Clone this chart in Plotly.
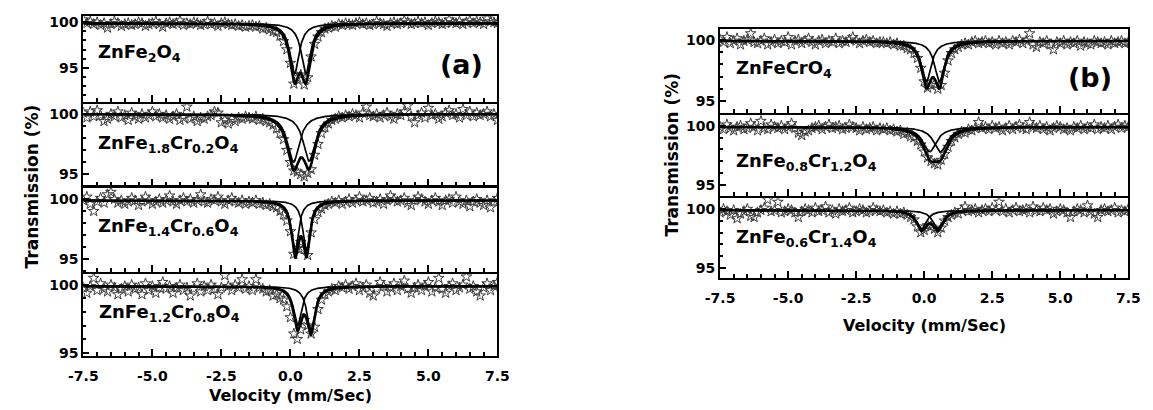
import numpy as np
import plotly.graph_objects as go

# Doppler velocity of each spectrometer channel (mm/s)
velocity = np.round(np.linspace(-7.5, 7.5, 121), 3)

# Measured transmission (%) for each composition
t_znfe2o4 = [
    100.3, 99.9, 100.1, 99.8, 100.0, 99.7, 99.9, 99.4, 99.8, 100.1, 99.9, 99.6,
    99.8, 99.9, 99.7, 99.8, 100.0, 99.9, 99.6, 99.8, 99.9, 100.1, 99.8, 99.5,
    99.9, 100.0, 99.8, 99.9, 100.2, 99.7, 99.9, 99.8, 100.0, 99.9, 99.7, 99.8,
    100.1, 99.8, 99.9, 99.6, 99.9, 100.0, 99.8, 99.7, 99.8, 99.6, 99.7, 99.5,
    99.6, 99.7, 99.5, 99.6, 99.3, 99.4, 99.2, 99.0, 98.9, 98.5, 97.9, 97.0,
    95.5, 93.2, 93.9, 94.2, 93.1, 93.9, 96.2, 97.6, 98.4, 98.9, 99.3, 99.4,
    99.6, 99.5, 99.8, 99.7, 99.9,
    99.8, 99.7, 99.9, 100.0, 99.8, 99.9, 99.7, 99.8, 100.1, 99.9, 99.8, 99.6,
    99.9, 100.0, 99.8, 99.9, 100.2, 100.0, 99.8, 99.9, 100.1, 99.9, 100.0, 99.7,
    99.9, 100.1, 100.0, 99.8, 99.9, 100.3, 100.0, 99.9, 100.1, 99.8, 100.0, 100.2,
    99.9, 100.1, 100.0, 99.8, 100.4, 100.1, 100.0, 99.9,
]
t_fe18cr02 = [
    100.1, 99.7, 100.2, 99.8, 100.3, 99.9, 99.4, 99.6, 100.0, 99.8, 100.2, 99.7,
    99.9, 99.5, 100.1, 99.8, 99.6, 100.0, 99.7, 99.9, 100.2, 99.8, 100.0, 99.7,
    99.9, 99.6, 99.8, 100.0, 99.5, 99.7, 100.6, 99.6, 99.8, 99.4, 99.7, 99.6,
    99.8, 99.9, 100.2, 100.1, 99.3, 99.5, 99.2, 99.6, 99.4, 99.7, 99.6, 99.8,
    99.7, 99.6, 99.8, 99.5, 99.6, 99.4, 99.3, 99.1, 98.8, 98.4, 97.9, 97.0,
    96.0, 95.3, 95.2, 95.0, 94.8, 95.1, 95.4, 96.6, 97.5, 98.4, 98.9, 99.2,
    99.5, 99.6, 99.8, 99.7, 99.9,
    99.8, 100.0, 99.9, 99.7, 100.1, 100.6, 99.9, 99.8, 100.0, 99.7, 99.9, 100.1,
    99.8, 99.6, 100.0, 99.9, 100.2, 100.7, 99.8, 99.3, 99.9, 100.1, 99.7, 100.5,
    99.9, 100.0, 99.6, 99.8, 100.1, 100.3, 99.9, 100.0, 99.7, 100.4, 99.9, 100.2,
    99.8, 100.1, 99.9, 100.0, 100.2, 99.8, 100.0, 99.5,
]
t_fe14cr06 = [
    99.9, 100.2, 99.6, 99.0, 99.8, 100.1, 99.7, 100.4, 100.6, 100.0, 99.7, 99.9,
    99.6, 99.8, 100.1, 99.9, 99.5, 99.8, 100.2, 99.9, 99.6, 99.8, 100.0, 99.7,
    99.9, 100.3, 99.8, 99.6, 99.9, 100.1, 99.8, 100.0, 99.7, 99.9, 100.4, 99.8,
    99.7, 100.0, 99.9, 100.2, 99.8, 99.6, 99.9, 100.1, 99.8, 99.7, 99.9, 99.6,
    99.8, 99.7, 99.9, 99.6, 99.7, 99.5, 99.6, 99.4, 99.3, 99.0, 98.7, 98.2,
    97.3, 95.4, 95.9, 96.4, 95.8, 95.3, 97.2, 98.3, 98.9, 99.2, 99.5, 99.6,
    99.8, 99.7, 99.9, 99.6, 99.8,
    100.0, 99.7, 99.9, 100.2, 99.8, 99.9, 100.1, 99.7, 99.8, 100.0, 99.6, 99.9,
    100.3, 100.0, 99.8, 99.9, 100.1, 99.7, 99.5, 99.9, 100.2, 100.0, 99.8, 99.6,
    99.9, 100.1, 99.8, 99.5, 99.9, 100.0, 99.7, 100.2, 99.8, 99.6, 99.9, 99.4,
    99.8, 100.0, 99.7, 99.5, 99.9, 99.3, 99.8, 100.1,
]
t_fe12cr08 = [
    99.8, 99.4, 99.9, 100.5, 99.6, 100.1, 99.7, 99.5, 100.0, 99.8, 99.3, 99.7,
    99.9, 99.5, 100.0, 99.7, 99.8, 99.3, 100.1, 99.6, 99.9, 99.4, 99.8, 100.2,
    99.7, 99.9, 99.4, 99.8, 100.0, 99.6, 99.8, 99.2, 99.7, 100.1, 99.5, 99.9,
    99.6, 100.0, 99.7, 99.3, 99.8, 100.7, 99.9, 99.6, 100.0, 99.8, 100.4, 99.7,
    99.9, 99.6, 100.4, 99.8, 99.7, 99.5, 99.6, 99.2, 99.3, 99.0, 98.9, 98.4,
    97.6, 96.4, 96.0, 96.7, 97.4, 97.0, 96.4, 96.9, 98.2, 98.9, 99.3, 99.5,
    99.7, 99.6, 99.9, 99.8, 100.0,
    99.7, 99.9, 100.1, 99.6, 99.8, 100.0, 99.4, 99.2, 99.7, 100.2, 99.9, 99.5,
    99.8, 100.1, 99.6, 99.9, 100.3, 99.7, 99.4, 99.8, 100.0, 99.6, 99.9, 100.2,
    99.5, 99.8, 100.5, 99.7, 99.4, 99.9, 100.1, 99.6, 99.8, 100.0, 100.6, 99.7,
    99.9, 99.5, 99.2, 99.8, 100.1, 99.6, 99.9, 100.2,
]
t_fecr = [
    100.0, 99.8, 100.2, 99.7, 99.9, 100.1, 99.6, 99.9, 100.0, 100.5, 99.8, 99.7,
    99.9, 100.1, 99.6, 99.8, 100.0, 99.7, 99.9, 99.8, 100.2, 99.6, 99.9, 100.0,
    99.7, 99.9, 100.1, 99.8, 99.6, 99.9, 100.0, 99.7, 99.9, 99.8, 100.1, 99.7,
    99.9, 99.8, 100.0, 100.2, 99.9, 99.7, 99.9, 100.0, 99.8, 99.9, 99.7, 99.8,
    99.8, 99.7, 99.8, 99.6, 99.7, 99.5, 99.5, 99.3, 99.2, 98.9, 98.5, 97.7,
    96.6, 96.1, 96.3, 96.4, 96.0, 96.3, 97.3, 98.3, 98.9, 99.2, 99.4, 99.6,
    99.7, 99.6, 99.8, 99.9, 99.7,
    99.8, 99.9, 99.7, 99.8, 99.6, 99.9, 99.7, 99.8, 99.6, 99.9, 99.8, 100.0,
    99.7, 99.9, 100.5, 99.6, 99.4, 99.8, 99.7, 99.9, 99.6, 99.2, 99.8, 99.7,
    99.9, 99.6, 99.8, 99.7, 99.9, 99.5, 99.8, 99.7, 99.6, 99.9, 99.8, 99.7,
    99.8, 99.6, 99.9, 99.7, 99.8, 99.9, 99.7, 99.8,
]
t_fe08cr12 = [
    99.9, 99.7, 100.1, 99.8, 99.6, 99.9, 100.0, 99.7, 99.8, 100.2, 99.9, 99.6,
    100.4, 99.8, 99.7, 100.1, 99.9, 99.8, 100.0, 99.7, 99.9, 100.2, 99.8, 99.4,
    99.2, 99.5, 99.6, 99.8, 99.9, 100.0, 99.7, 99.9, 100.1, 99.8, 99.9, 100.0,
    99.7, 99.8, 100.1, 99.9, 99.8, 99.6, 99.9, 99.7, 99.8, 99.9, 99.6, 99.8,
    99.7, 99.8, 99.6, 99.7, 99.5, 99.6, 99.3, 99.4, 99.1, 99.0, 98.7, 98.4,
    97.8, 97.3, 97.0, 96.8, 96.7, 97.1, 97.6, 98.2, 98.7, 99.0, 99.3, 99.5,
    99.4, 99.7, 99.6, 99.8, 100.3,
    99.8, 99.9, 99.7, 100.0, 99.8, 99.9, 99.6, 99.8, 100.0, 99.7, 99.9, 100.1,
    99.8, 99.7, 100.3, 99.9, 99.8, 100.0, 99.7, 99.9, 99.6, 99.8, 100.0, 99.9,
    99.7, 99.8, 99.6, 99.9, 99.8, 100.0, 99.7, 99.9, 99.8, 100.1, 99.7, 99.9,
    99.8, 100.0, 99.7, 99.9, 100.1, 99.8, 100.0, 99.9,
]
t_fe06cr14 = [
    99.7, 100.0, 99.8, 99.5, 99.9, 99.2, 99.6, 99.8, 100.0, 99.4, 99.3, 99.7,
    99.9, 100.1, 100.8, 99.8, 99.9, 100.6, 99.7, 99.8, 100.0, 99.9, 99.7, 99.3,
    99.8, 100.0, 99.9, 99.7, 100.1, 99.8, 99.9, 100.2, 99.7, 99.9, 99.6, 100.0,
    99.8, 99.9, 100.1, 99.7, 99.8, 100.0, 99.9, 99.7, 99.8, 100.1, 99.9, 99.8,
    99.9, 99.7, 99.8, 99.6, 99.8, 99.6, 99.7, 99.5, 99.3, 99.1, 98.5, 98.0,
    98.2, 98.6, 98.5, 98.3, 98.0, 98.4, 99.0, 99.3, 99.5, 99.7, 99.6, 99.9,
    100.2, 99.8, 99.9, 100.0, 99.7,
    99.9, 100.0, 99.8, 100.1, 99.9, 100.6, 99.8, 100.0, 99.7, 99.9, 100.1, 99.8,
    99.9, 100.0, 99.7, 100.2, 99.9, 99.8, 100.1, 99.9, 100.0, 99.6, 99.8, 100.0,
    99.9, 99.7, 99.3, 99.8, 100.0, 99.9, 99.7, 100.3, 99.8, 99.6, 99.3, 99.9,
    100.0, 99.8, 99.9, 100.1, 99.7, 99.9, 99.8, 100.0,
]

sample_labels = [
    "ZnFe<sub>2</sub>O<sub>4</sub>",
    "ZnFe<sub>1.8</sub>Cr<sub>0.2</sub>O<sub>4</sub>",
    "ZnFe<sub>1.4</sub>Cr<sub>0.6</sub>O<sub>4</sub>",
    "ZnFe<sub>1.2</sub>Cr<sub>0.8</sub>O<sub>4</sub>",
    "ZnFeCrO<sub>4</sub>",
    "ZnFe<sub>0.8</sub>Cr<sub>1.2</sub>O<sub>4</sub>",
    "ZnFe<sub>0.6</sub>Cr<sub>1.4</sub>O<sub>4</sub>",
]
spectra = [t_znfe2o4, t_fe18cr02, t_fe14cr06, t_fe12cr08,
           t_fecr, t_fe08cr12, t_fe06cr14]

# Quadrupole doublet fits: baseline (%), line centres (mm/s),
# full widths at half maximum (mm/s) and line depths (%)
fit_baseline = [99.9, 100.0, 99.9, 99.9, 99.9, 99.9, 99.9]
fit_centre = [[0.15, 0.56], [0.11, 0.68], [0.17, 0.58], [0.26, 0.74],
              [0.08, 0.56], [0.20, 0.60], [-0.10, 0.50]]
fit_fwhm = [[0.40, 0.40], [0.52, 0.52], [0.30, 0.30], [0.34, 0.34],
            [0.43, 0.43], [0.60, 0.60], [0.44, 0.44]]
fit_depth = [[5.6, 5.6], [4.0, 3.9], [4.3, 4.3], [2.9, 3.3],
             [3.3, 3.3], [2.1, 2.1], [1.6, 1.6]]

# tick positions and their labels
x_tick_values = [-7.5, -5.0, -2.5, 0.0, 2.5, 5.0, 7.5]
x_tick_labels = ["-7.5", "-5.0", "-2.5", "0.0", "2.5", "5.0", "7.5"]
y_tick_values = [95, 100]
y_tick_labels = ["95", "100"]

W, H = 1153, 410
FONT = "DejaVu Sans"
LW = 2  # frame line width in px

# panel geometry in pixels: (x0, x1, y_top, y_bottom, y_range)
panels = [
    (70, 494, 14.3, 101.5, [91.22, 100.70]),
    (70, 494, 101.5 + LW, 186.7, [94.07, 100.86]),
    (70, 494, 186.7 + LW, 274.5, [93.91, 100.99]),
    (70, 494, 274.5 + LW, 360.0, [94.77, 100.82]),
    (722, 1140, 27.3, 112.7, [94.07, 100.88]),
    (722, 1140, 112.7 + LW, 197.7, [94.02, 100.94]),
    (722, 1140, 197.7 + LW, 281.0, [94.10, 100.92]),
]
bottom_panels = {3, 6}
label_pos = [(83, 52), (83, 144), (83, 229), (84, 316),
             (736, 68), (736, 163), (736, 240)]

v_fine = np.linspace(-7.5, 7.5, 1501)


def lorentz(v, c, fwhm, depth):
    return depth / (1.0 + ((v - c) / (fwhm / 2.0)) ** 2)


def bold(items):
    return ["<b>" + s + "</b>" for s in items]


tick_font = dict(family=FONT, size=14, color="black")
fig = go.Figure()
layout_axes = {}
annotations = []

for k, (x0, x1, yt, yb, yr) in enumerate(panels):
    n = "" if k == 0 else str(k + 1)
    xa, ya = "x" + n, "y" + n
    base = fit_baseline[k]
    fig.add_trace(go.Scatter(
        x=velocity, y=spectra[k], mode="markers", xaxis=xa, yaxis=ya,
        marker=dict(symbol="star-open", size=8, color="#3c3c3c",
                    line=dict(width=1, color="#3c3c3c")),
        showlegend=False, hoverinfo="skip"))
    comps = [lorentz(v_fine, c, w, d) for c, w, d in
             zip(fit_centre[k], fit_fwhm[k], fit_depth[k])]
    for comp in comps:
        fig.add_trace(go.Scatter(
            x=v_fine, y=base - comp, mode="lines", xaxis=xa, yaxis=ya,
            line=dict(color="black", width=1.7), showlegend=False,
            hoverinfo="skip"))
    fig.add_trace(go.Scatter(
        x=v_fine, y=base - sum(comps), mode="lines", xaxis=xa, yaxis=ya,
        line=dict(color="black", width=2.6), showlegend=False,
        hoverinfo="skip"))

    layout_axes["xaxis" + n] = dict(
        domain=[x0 / W, x1 / W], anchor=ya, range=[-7.5, 7.5],
        tickmode="array", tickvals=x_tick_values,
        ticktext=bold(x_tick_labels), ticklabelstandoff=6,
        ticks="inside", ticklen=7, tickwidth=1.5,
        tickcolor="black", showline=True, linewidth=LW, linecolor="black",
        mirror=True, showgrid=False, zeroline=False,
        showticklabels=k in bottom_panels, tickfont=tick_font,
        minor=dict(ticks="inside", tickmode="linear", dtick=0.5, tick0=-7.5,
                   ticklen=4, tickwidth=1.5, tickcolor="black",
                   showgrid=False))
    layout_axes["yaxis" + n] = dict(
        domain=[1 - yb / H, 1 - yt / H], anchor=xa, range=yr,
        tickmode="array", tickvals=y_tick_values,
        ticktext=bold(y_tick_labels), ticks="inside", ticklen=6,
        tickwidth=1.5, tickcolor="black", showline=True, linewidth=LW,
        linecolor="black", mirror=True, showgrid=False, zeroline=False,
        tickfont=tick_font,
        minor=dict(ticks="inside", tickmode="linear", dtick=1, tick0=0,
                   ticklen=3, tickwidth=1.5, tickcolor="black",
                   showgrid=False))

    lx, ly = label_pos[k]
    annotations.append(dict(
        text="<b>" + sample_labels[k] + "</b>", x=lx / W, y=1 - ly / H,
        xref="paper", yref="paper", xanchor="left", yanchor="middle",
        showarrow=False, font=dict(family=FONT, size=18, color="black")))

# panel tags and axis titles
for text, px, py, size, angle in [
    ("(a)", 457, 64, 27, 0), ("(b)", 1101, 77, 27, 0),
    ("Transmission (%)", 17, 188, 17, -90),
    ("Transmission (%)", 673, 155, 17, -90),
    ("Velocity (mm/Sec)", 282, 400, 16, 0),
    ("Velocity (mm/Sec)", 931, 329, 16, 0),
]:
    annotations.append(dict(
        text="<b>" + text + "</b>", x=px / W, y=1 - py / H,
        xref="paper", yref="paper", xanchor="center", yanchor="middle",
        textangle=angle, showarrow=False,
        font=dict(family=FONT, size=size, color="black")))

fig.update_layout(
    width=W, height=H, margin=dict(l=0, r=0, t=0, b=0),
    paper_bgcolor="white", plot_bgcolor="white",
    annotations=annotations, **layout_axes)

fig.write_html("out.html")
